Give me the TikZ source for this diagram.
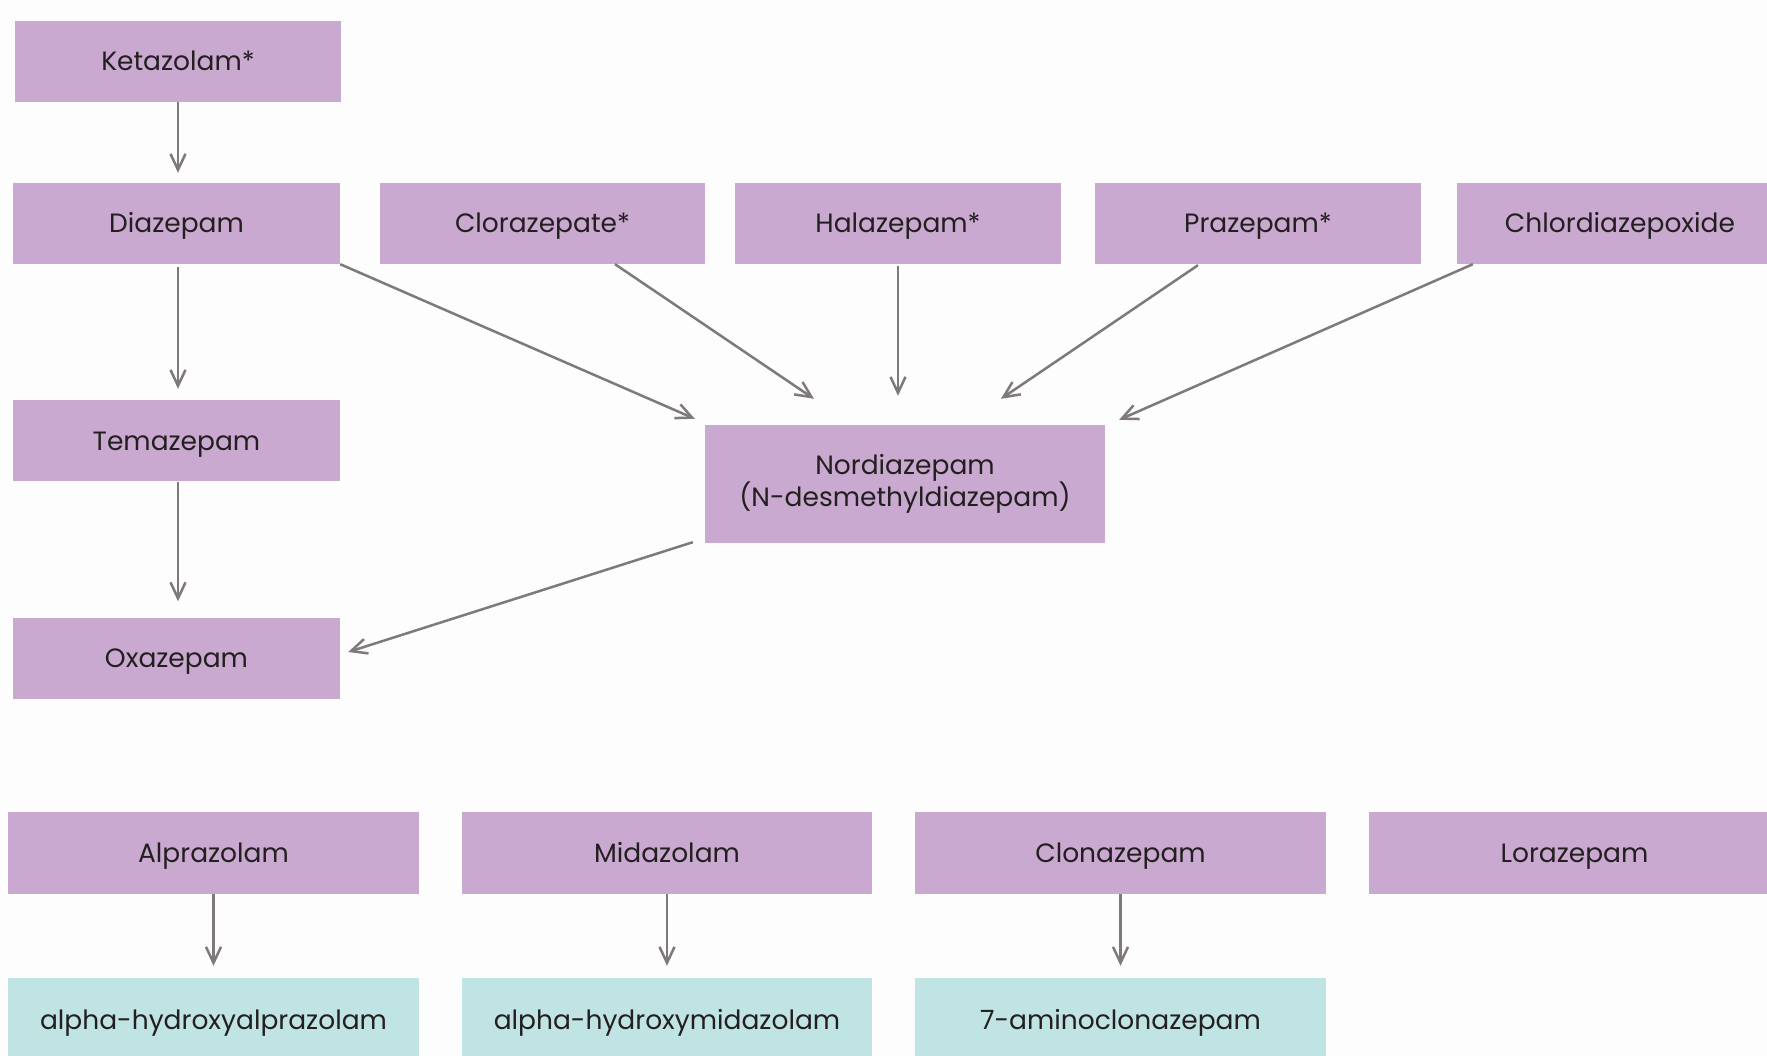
\documentclass[tikz,border=0pt]{standalone}
\usepackage{fontspec}
\setmainfont{Poppins}
\usetikzlibrary{arrows.meta,calc}
\definecolor{bg}{HTML}{FDFDFD}
\definecolor{purp}{HTML}{C9A9D0}
\definecolor{cyanbox}{HTML}{C0E4E3}
\definecolor{arrgray}{HTML}{7F7979}
\definecolor{txt}{HTML}{231F20}
\tikzset{
  basebox/.style={fill=purp, draw=none, text=txt, inner sep=0pt,
    font=\fontsize{26.5}{32}\selectfont, align=center},
  pbox/.style={basebox, minimum height=81pt, text height=19pt, text depth=0pt},
  cbox/.style={pbox, fill=cyanbox},
  arr/.style={draw=arrgray, line width=2.5pt, -{Straight Barb[length=16pt,width=15pt,line width=2.5pt]}},
}
\begin{document}
\begin{tikzpicture}[x=1pt,y=-1pt]
\useasboundingbox (0,0) rectangle (1767,1056);
\fill[bg] (0,0) rectangle (1767,1056);
% top row
\node[pbox, minimum width=326pt] (ket) at (178,61.5) {Ketazolam*};
\node[pbox, minimum width=327pt] (dia) at (176.5,223.5) {Diazepam};
\node[pbox, minimum width=325pt] (clo) at (542.5,223.5) {Clorazepate*};
\node[pbox, minimum width=326pt] (hal) at (898,223.5) {Halazepam*};
\node[pbox, minimum width=326pt] (pra) at (1258,223.5) {Prazepam*};
\node[pbox, minimum width=326pt] (chl) at (1620,223.5) {Chlordiazepoxide};
\node[pbox, minimum width=327pt] (tem) at (176.5,440.5) {Temazepam};
\node[pbox, minimum width=327pt] (oxa) at (176.5,658) {Oxazepam};
\node[basebox, minimum width=400pt, minimum height=118pt] (nord) at (905,484) {Nordiazepam\\(N-desmethyldiazepam)};
% bottom rows
\node[pbox, minimum width=411pt, minimum height=82pt] (alp) at (213.5,853) {Alprazolam};
\node[pbox, minimum width=410pt, minimum height=82pt] (mid) at (667,853) {Midazolam};
\node[pbox, minimum width=411pt, minimum height=82pt] (clon) at (1120.5,853) {Clonazepam};
\node[pbox, minimum width=411pt, minimum height=82pt] (lor) at (1574.5,853) {Lorazepam};
\node[cbox, minimum width=411pt, minimum height=84pt] (halp) at (213.5,1020) {alpha-hydroxyalprazolam};
\node[cbox, minimum width=410pt, minimum height=84pt] (hmid) at (667,1020) {alpha-hydroxymidazolam};
\node[cbox, minimum width=411pt, minimum height=84pt] (aclon) at (1120.5,1020) {7-aminoclonazepam};
% helper coordinates
\coordinate (d1) at ($(dia.south)+(1.5,0)$);
\coordinate (t1) at ($(tem.south)+(1.5,0)$);
% arrows
\draw[arr, shorten >=10pt] (ket.south) -- (ket.south |- dia.north);
\draw[arr, shorten <=3pt, shorten >=11pt] (d1) -- (d1 |- tem.north);
\draw[arr, shorten <=1pt, shorten >=16pt] (t1) -- (t1 |- oxa.north);
\draw[arr] (dia.south east) -- ($(nord.north west)+(-10,-6)$);
\draw[arr] ($(clo.south)+(72.5,0)$) -- ($(nord.north)+(-91,-26)$);
\draw[arr, shorten <=2pt, shorten >=29pt] (hal.south) -- (hal.south |- nord.north);
\draw[arr] ($(pra.south)+(-60,1)$) -- ($(nord.north)+(96,-26)$);
\draw[arr] ($(chl.south west)+(16,0)$) -- ($(nord.north east)+(14,-5)$);
\draw[arr] ($(nord.south west)+(-12,-1)$) -- ($(oxa.east)+(8,-6)$);
\draw[arr, shorten >=12pt] (alp.south) -- (alp.south |- halp.north);
\draw[arr, shorten >=12pt] (mid.south) -- (mid.south |- hmid.north);
\draw[arr, shorten >=12pt] (clon.south) -- (clon.south |- aclon.north);
\end{tikzpicture}
\end{document}
